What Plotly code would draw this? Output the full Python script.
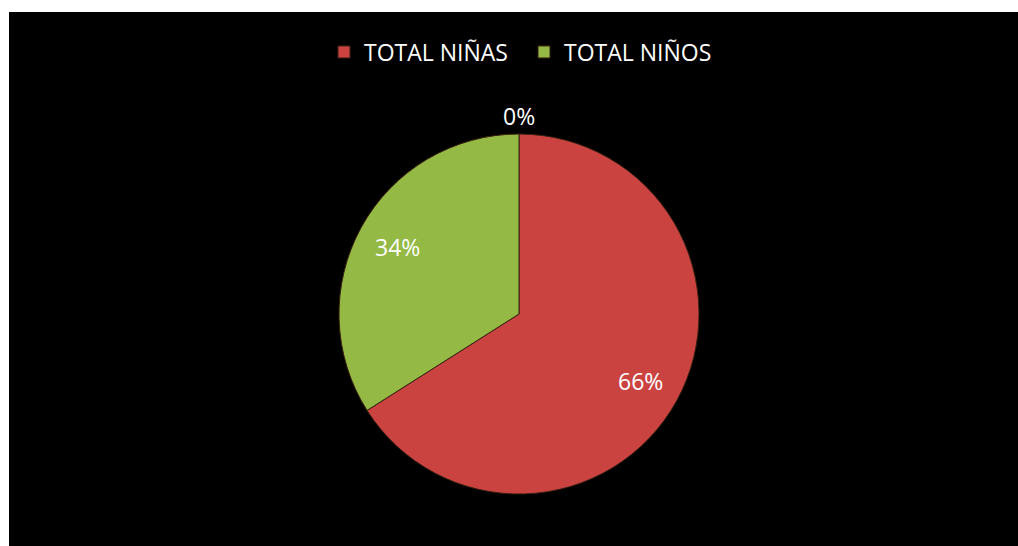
import math
import plotly.graph_objects as go

labels = ["TOTAL NIÑAS", "TOTAL NIÑOS"]
values = [66, 34]
colors = ["#CB4341", "#94B944"]
extra_label_value = 0  # third (empty) category shown as 0%

W, H = 1018, 546
cx, cy, r = 519, 314, 180
FONT = "Open Sans"

fig = go.Figure()
fig.add_trace(go.Pie(
    labels=labels,
    values=values,
    sort=False,
    direction="clockwise",
    rotation=0,
    marker=dict(colors=colors, line=dict(color="#3a2010", width=1)),
    textinfo="none",
    domain=dict(x=[(cx - r) / W, (cx + r) / W], y=[(H - cy - r) / H, (H - cy + r) / H]),
    hoverinfo="label+percent",
))

# percentage labels placed at the middle angle of each slice (computed from data)
total = sum(values) + extra_label_value
cum = 0
for v in values + [extra_label_value]:
    mid = (cum + v / 2) / total
    ang = 2 * math.pi * mid
    dist = 0.77 * r if v > 0 else 1.1 * r
    px = cx + dist * math.sin(ang)
    py = cy - dist * math.cos(ang)
    fig.add_annotation(
        x=px / W, y=(H - py) / H, xref="paper", yref="paper",
        xanchor="center", yanchor="middle",
        text=f"{round(100 * v / total)}%", showarrow=False,
        font=dict(color="white", size=23, family=FONT),
    )
    cum += v

fig.add_shape(type="rect", xref="paper", yref="paper",
              x0=9 / W, x1=1, y0=0, y1=(H - 12) / H,
              fillcolor="black", line=dict(width=0), layer="below")

fig.update_layout(
    width=W, height=H,
    margin=dict(l=0, r=0, t=0, b=0),
    paper_bgcolor="white",
    plot_bgcolor="white",
    font=dict(family=FONT, color="white"),
    showlegend=True,
    legend=dict(orientation="h", x=324 / W, xanchor="left", y=(H - 52) / H, yanchor="middle",
                font=dict(size=23, color="white", family=FONT),
                bgcolor="rgba(0,0,0,0)", itemwidth=30,
                entrywidth=155, entrywidthmode="pixels"),
)

fig.write_html("out.html", config={"displayModeBar": False},
               post_script="document.body.style.margin='0px';document.body.style.overflow='hidden';")
